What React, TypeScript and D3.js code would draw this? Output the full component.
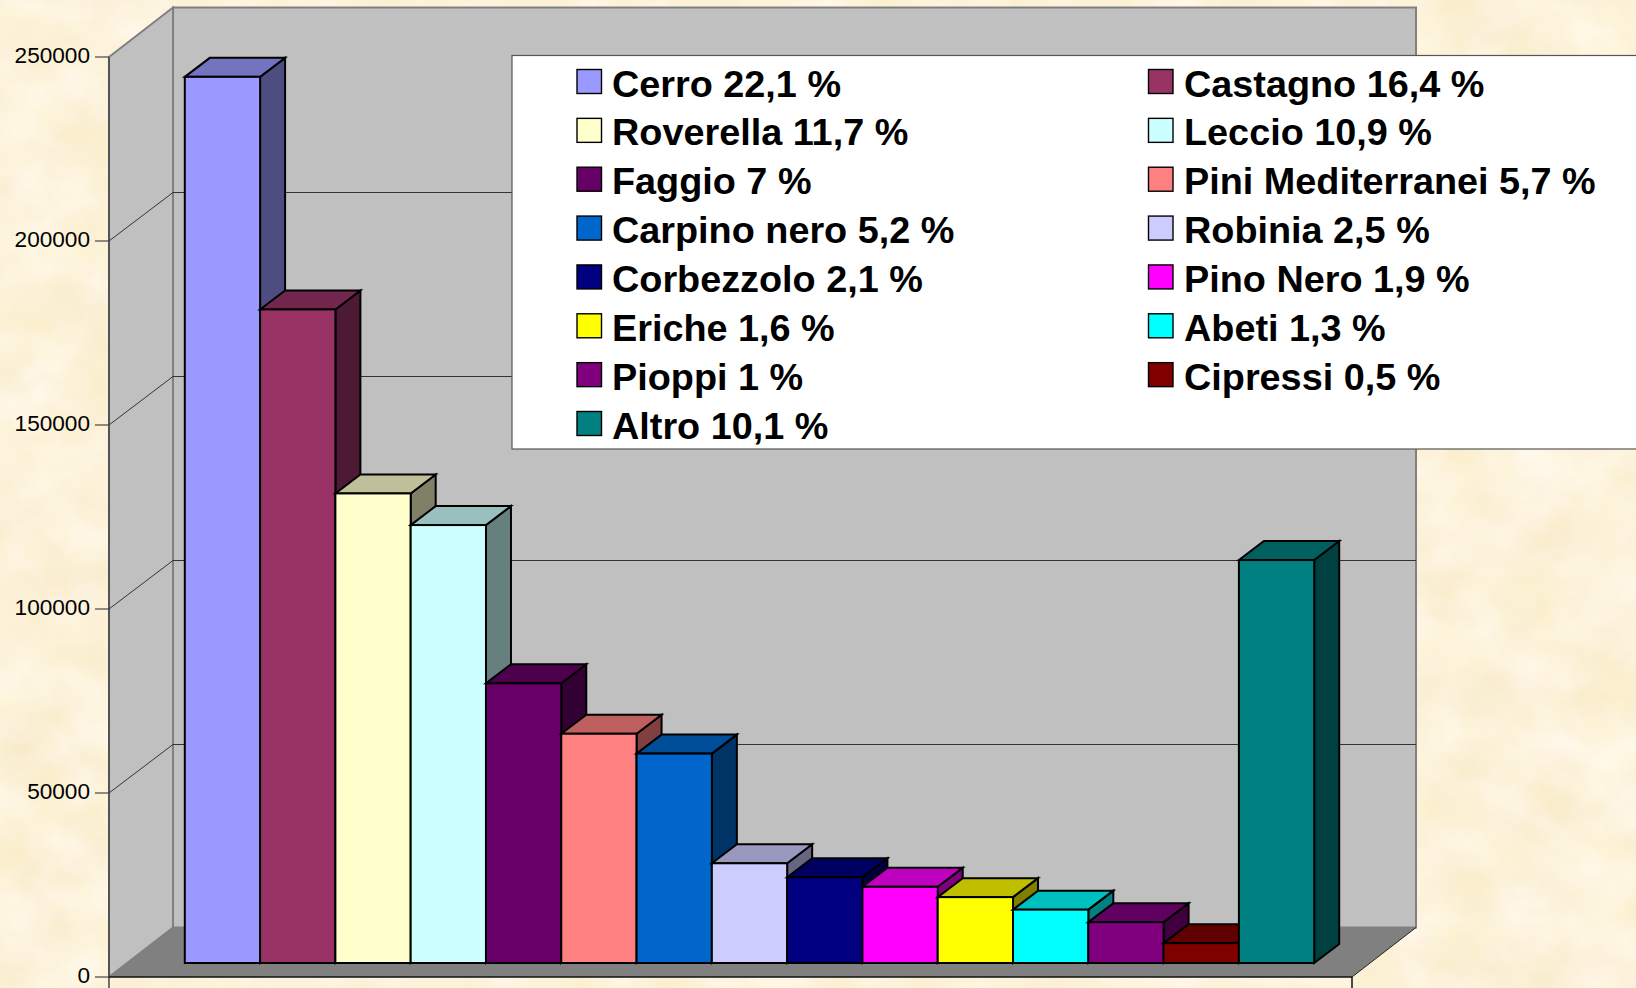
import * as d3 from "d3";

const WIDTH = 1636;
const HEIGHT = 988;

// Values
const species = [
  "Cerro", "Castagno", "Roverella", "Leccio", "Faggio", "Pini Mediterranei", "Carpino nero", "Robinia",
  "Corbezzolo", "Pino Nero", "Eriche", "Abeti", "Pioppi", "Cipressi", "Altro",
];
const values = [240800, 177600, 127600, 119000, 76000, 62300, 56900, 27100, 23300, 20700, 17900, 14500, 11100, 5400, 109500];
const percents = ["22,1", "16,4", "11,7", "10,9", "7", "5,7", "5,2", "2,5", "2,1", "1,9", "1,6", "1,3", "1", "0,5", "10,1"];
const colors = [
  "#9999ff", "#993366", "#ffffcc", "#ccffff", "#660066", "#ff8080", "#0066cc", "#ccccff",
  "#000080", "#ff00ff", "#ffff00", "#00ffff", "#800080", "#800000", "#008080",
];
const yTicks = [0, 50000, 100000, 150000, 200000, 250000];

// Frame of the fake 3D box
const FRONT = { left: 109, right: 1352, bottom: 977, top: 57 };
const WALL = { dx: 64, dy: -49.5, gridDy: -48.5 };
const BAR = { left: 184.8, right: 1314.2, depthX: 25, depthY: -19, shiftY: -14 };

const yScale = d3.scaleLinear().domain([0, 250000]).range([FRONT.bottom, FRONT.top]);
const xScale = d3.scaleBand<string>().domain(species).range([BAR.left, BAR.right]).padding(0);

const legendRows = d3.range(8);
const legendY = d3.scalePoint<number>().domain(legendRows).range([95, 437]);
const swatchX = [577, 1148.5];
const labelX = [612, 1184];

const poly = (pts: number[][]) => pts.map((p) => p.join(",")).join(" ");
const shade = (c: string, k: number) => {
  const { r, g, b } = d3.rgb(c);
  return d3.rgb(r * k, g * k, b * k).formatHex();
};

function Bar({ i }: { i: number }) {
  const name = species[i];
  const x0 = xScale(name)!;
  const x1 = x0 + xScale.bandwidth();
  const yb = yScale(0) + BAR.shiftY;
  const yt = yScale(values[i]) + BAR.shiftY;
  const { depthX: dx, depthY: dy } = BAR;
  return (
    <g stroke="#000" strokeWidth={2} strokeLinejoin="miter">
      <polygon points={poly([[x1, yb], [x1 + dx, yb + dy], [x1 + dx, yt + dy], [x1, yt]])} fill={shade(colors[i], 0.5)} />
      <polygon points={poly([[x0, yt], [x0 + dx, yt + dy], [x1 + dx, yt + dy], [x1, yt]])} fill={shade(colors[i], 0.75)} />
      <rect x={x0} y={yt} width={x1 - x0} height={yb - yt} fill={colors[i]} />
    </g>
  );
}

export default function App() {
  const { left, right, bottom, top } = FRONT;
  const { dx, dy, gridDy } = WALL;
  return (
    <svg
      width={WIDTH}
      height={HEIGHT}
      style={{ position: "absolute", left: 0, top: 0, display: "block" }}
      fontFamily="'Liberation Sans', Arial, sans-serif"
    >
      <defs>
        <filter id="paper" x="0" y="0" width="100%" height="100%" colorInterpolationFilters="sRGB">
          <feTurbulence type="fractalNoise" baseFrequency="0.014 0.018" numOctaves={4} seed={7} />
          <feColorMatrix
            type="matrix"
            values="0.04 0 0 0 0.97  0.07 0 0 0 0.915  0.18 0.05 0 0 0.74  0 0 0 0 1"
          />
        </filter>
      </defs>
      <rect width={WIDTH} height={HEIGHT} fill="#fdf1d9" filter="url(#paper)" />

      {/* walls and floor */}
      <polygon
        points={poly([[left + dx, top + dy], [right + dx, top + dy], [right + dx, bottom + dy], [left + dx, bottom + dy]])}
        fill="#c0c0c0"
        stroke="#808080"
        strokeWidth={2}
      />
      <polygon
        points={poly([[left, top], [left + dx, top + dy], [left + dx, bottom + dy], [left, bottom]])}
        fill="#c0c0c0"
        stroke="#808080"
        strokeWidth={2}
      />
      <polygon
        points={poly([[left, bottom], [left + dx, bottom + dy], [right + dx, bottom + dy], [right, bottom]])}
        fill="#808080"
      />

      {/* gridlines, then the axis */}
      {yTicks.slice(1, -1).map((t) => (
        <polyline
          key={t}
          points={poly([[left, yScale(t)], [left + dx, yScale(t) + gridDy], [right + dx, yScale(t) + gridDy]])}
          fill="none"
          stroke="#333"
          strokeWidth={1}
        />
      ))}
      <line x1={right} x2={right + dx} y1={bottom} y2={bottom + dy} stroke="#222" strokeWidth={1} />
      <line x1={left} x2={left} y1={top} y2={HEIGHT} stroke="#444" strokeWidth={1.5} />
      <line x1={left} x2={right} y1={bottom} y2={bottom} stroke="#111" strokeWidth={1.5} />
      <line x1={right} x2={right} y1={bottom} y2={HEIGHT} stroke="#111" strokeWidth={1.5} />
      {yTicks.map((t) => (
        <g key={t}>
          <line x1={95} x2={left} y1={yScale(t)} y2={yScale(t)} stroke="#444" strokeWidth={1.2} />
          <text x={90} y={yScale(t)} dy="0.26em" textAnchor="end" fontSize={22.6} fill="#000">
            {t}
          </text>
        </g>
      ))}

      {species.map((s, i) => (
        <Bar key={s} i={i} />
      ))}

      {/* legend runs off the right edge of the picture */}
      <rect x={512} y={55.5} width={WIDTH} height={393.5} fill="#fff" stroke="#555" strokeWidth={1.2} />
      {species.map((s, i) => {
        const col = i === species.length - 1 ? 0 : i % 2;
        const row = Math.floor(i / 2);
        const y = legendY(row)!;
        return (
          <g key={s}>
            <rect x={swatchX[col]} y={y - 25.5} width={24.5} height={24} fill={colors[i]} stroke="#000" strokeWidth={1.4} />
            <text x={labelX[col]} y={y + 1.5} fontSize={37.8} fontWeight={700} fill="#000">
              {`${s} ${percents[i]} %`}
            </text>
          </g>
        );
      })}
    </svg>
  );
}
